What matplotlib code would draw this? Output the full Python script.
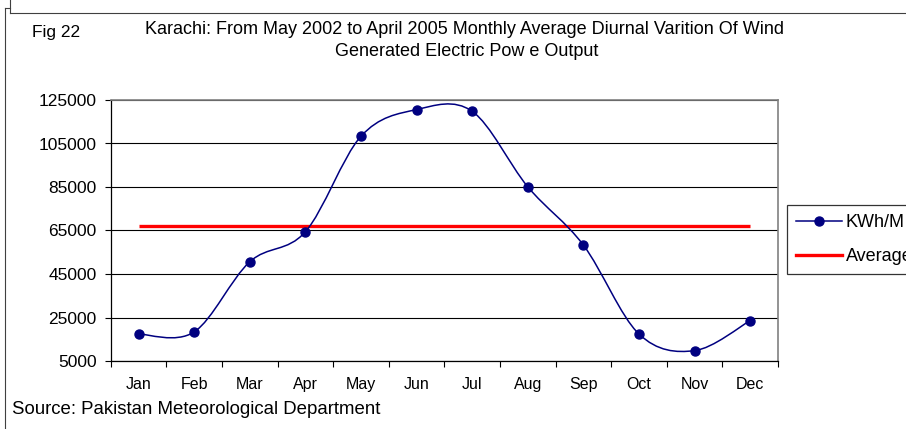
import matplotlib
matplotlib.use("Agg")
import matplotlib.pyplot as plt
from matplotlib.path import Path
from matplotlib.patches import PathPatch
from matplotlib.lines import Line2D
import numpy as np

months = ["Jan", "Feb", "Mar", "Apr", "May", "Jun", "Jul", "Aug", "Sep", "Oct", "Nov", "Dec"]
kwh = [17400, 18350, 50600, 64400, 108300, 120600, 119800, 85100, 58300, 17400, 9760, 23570]
average = [67200] * 12
yticks = [5000, 25000, 45000, 65000, 85000, 105000, 125000]

plt.rcParams['font.family'] = ['Liberation Sans', 'DejaVu Sans']

W, H = 906, 429
fig = plt.figure(figsize=(W / 100, H / 100), dpi=100)

def fx(px):
    return px / W

def fy(py):
    return 1 - py / H

ax = fig.add_axes([fx(110.7), fy(361), fx(778) - fx(110.7), fy(100) - fy(361)])

x = np.arange(1, len(months) + 1)

# smoothed line (Excel-style Catmull-Rom -> cubic Bezier)
pts = np.column_stack([x, kwh]).astype(float)
n = len(pts)
verts = [pts[0]]
codes = [Path.MOVETO]
for i in range(n - 1):
    p0 = pts[i - 1] if i > 0 else pts[i]
    p1 = pts[i]
    p2 = pts[i + 1]
    p3 = pts[i + 2] if i + 2 < n else pts[i + 1]
    c1 = p1 + (p2 - p0) / 6.0
    c2 = p2 - (p3 - p1) / 6.0
    verts += [c1, c2, p2]
    codes += [Path.CURVE4] * 3
ax.add_patch(PathPatch(Path(verts, codes), facecolor='none', edgecolor='#000080', lw=1.1, zorder=3))
ax.plot(x, kwh, linestyle='none', marker='o', markersize=6.5, color='#000080', zorder=4)
ax.plot(x, average, color='#FF0000', lw=2.4, zorder=2, solid_capstyle='butt')

ax.set_xlim(0.5, 12.5)
ax.set_ylim(5000, 125000)
ax.set_yticks(yticks)
ax.set_yticklabels([str(v) for v in yticks])
ax.set_xticks(np.arange(0.5, 13, 1))
ax.set_xticklabels([])
ax.set_xticks(x, minor=True)
ax.set_xticklabels(months, minor=True)
ax.tick_params(axis='x', which='major', length=4, width=0.8, direction='out', color='black')
ax.tick_params(axis='x', which='minor', length=0, pad=20.5, labelsize=11.5)
for t in ax.xaxis.get_minorticklabels():
    t.set_verticalalignment('baseline')
ax.tick_params(axis='y', length=4, width=0.8, direction='out', labelsize=12.5, pad=6)
ax.grid(axis='y', color='black', lw=0.8)
ax.set_axisbelow(True)
for s in ['top', 'right']:
    ax.spines[s].set_color('#808080')
    ax.spines[s].set_linewidth(1.2)
for s in ['left', 'bottom']:
    ax.spines[s].set_color('black')
    ax.spines[s].set_linewidth(0.9)

handles = [Line2D([], [], color='#000080', lw=1.1, marker='o', markersize=6.5),
           Line2D([], [], color='#FF0000', lw=2.4)]
leg = fig.legend(handles, ['KWh/M', 'Average'], loc='upper left',
                 bbox_to_anchor=(fx(787), fy(205)), fontsize=13, frameon=True,
                 fancybox=False, handlelength=2.55, handletextpad=0.2,
                 borderpad=0.5, labelspacing=0.95, borderaxespad=0)
leg.get_frame().set_edgecolor('black')
leg.get_frame().set_linewidth(0.9)

fig.text(fx(465), fy(30), "Karachi: From May 2002 to April 2005 Monthly Average Diurnal Varition Of Wind",
         ha='center', va='center', fontsize=13)
fig.text(fx(467), fy(52), "Generated Electric Pow e Output", ha='center', va='center', fontsize=13)
fig.text(fx(32), fy(33), "Fig 22", ha='left', va='center', fontsize=12.5)
fig.text(fx(12), fy(409), "Source: Pakistan Meteorological Department", ha='left', va='center', fontsize=13.4)

# outer frame lines
fig.add_artist(Line2D([fx(5), fx(5)], [fy(8), fy(429)], color='#404040', lw=0.8))
fig.add_artist(Line2D([fx(5), fx(10)], [fy(8), fy(8)], color='#404040', lw=0.8))
fig.add_artist(Line2D([fx(10), fx(10)], [fy(0), fy(13)], color='#404040', lw=0.8))
fig.add_artist(Line2D([fx(10), fx(906)], [fy(13), fy(13)], color='#404040', lw=0.8))

fig.savefig("out.png", dpi=100)
